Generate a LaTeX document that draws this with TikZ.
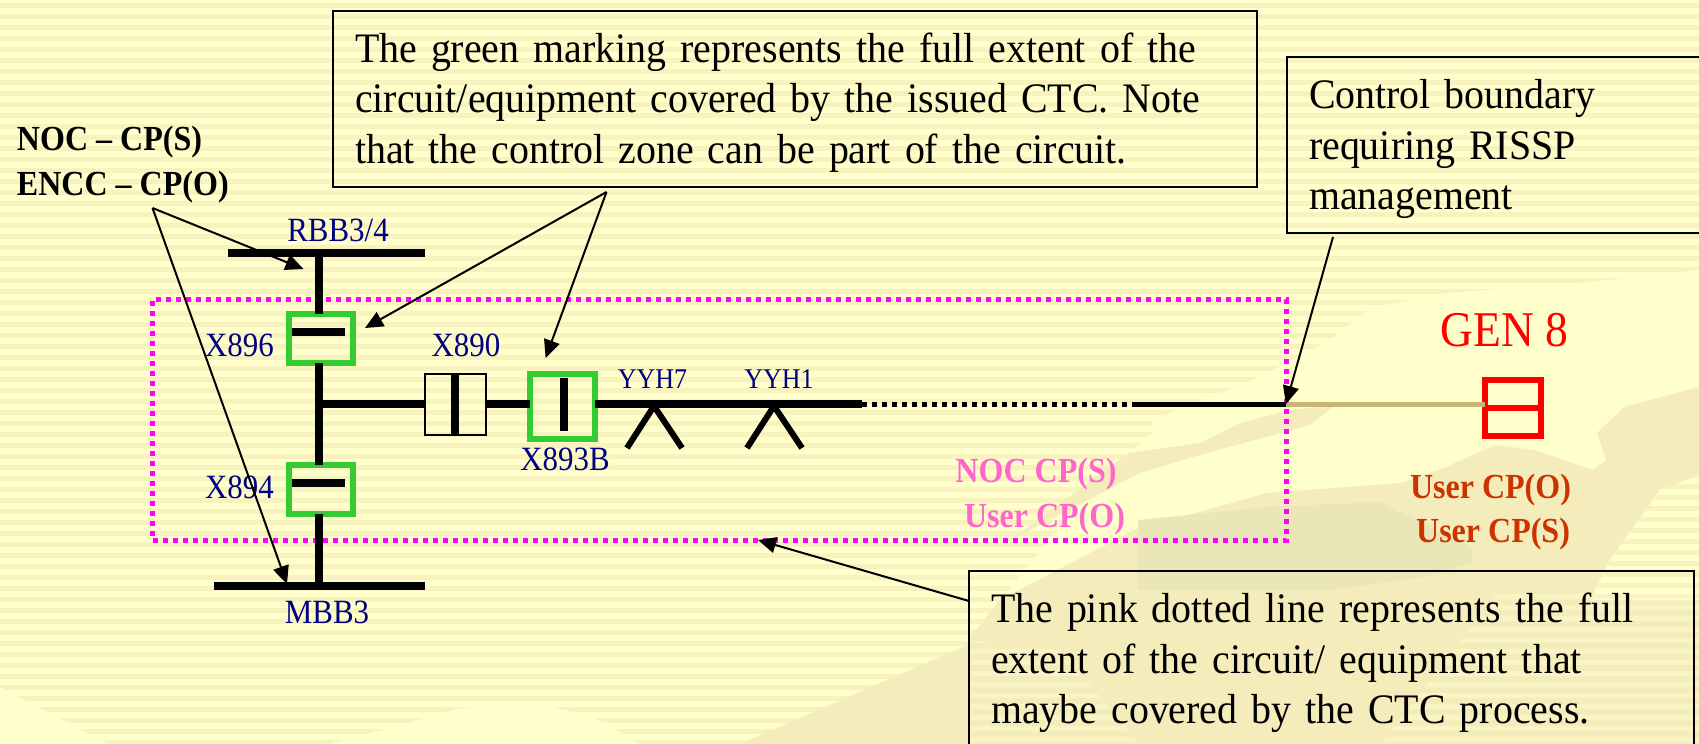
\documentclass[tikz,border=0pt]{standalone}
\usepackage{fontspec}
\setmainfont[FakeStretch=0.91]{Liberation Serif}
\newfontfamily\notefont[FakeStretch=0.95,WordSpace=0.85]{Liberation Serif}
\usetikzlibrary{arrows.meta,positioning}
\definecolor{paper}{HTML}{FFFFCC}
\definecolor{stripe}{HTML}{F8F2BE}
\definecolor{swoosh}{HTML}{F4EDBB}
\definecolor{swooshdark}{HTML}{EAE6B8}
\definecolor{swooshstripe}{HTML}{F9F4C3}
\definecolor{zonepink}{HTML}{FF00FF}
\definecolor{markgreen}{HTML}{33CC33}
\definecolor{labelpink}{HTML}{FF66CC}
\definecolor{labelorange}{HTML}{CC3300}
\definecolor{cabletan}{HTML}{C9B677}
\tikzstyle{every node}+=[inner sep=0pt,outer sep=0pt]
\tikzstyle{busline}=[line width=4pt]
\tikzstyle{feeder}=[line width=4pt]
\tikzstyle{switchbar}=[line width=3.6pt]
\tikzstyle{forkleg}=[line width=3pt]
\tikzstyle{markbox}=[draw=markgreen,line width=3pt,minimum width=32.25pt,minimum height=24.5pt]
\tikzstyle{plantlabel}=[text=blue!50!black,font=\fontsize{17}{20}\selectfont]
\tikzstyle{smalllabel}=[text=blue!50!black,font=\fontsize{14.3}{17}\selectfont]
\tikzstyle{rolelabel}=[font=\fontsize{17.6}{21}\selectfont\bfseries]
\tikzstyle{notebox}=[draw,line width=1.2pt,anchor=north west,align=left,inner xsep=11pt,inner ysep=5.6pt,font=\notefont\fontsize{21}{25.4}\selectfont]
\tikzstyle{notearrow}=[line width=1pt,-{Triangle[length=9pt,width=8pt]}]
\newcommand{\nb}{\rule[-6pt]{0pt}{26pt}}
\begin{document}
\begin{tikzpicture}[x=0.5pt,y=-0.5pt]
\clip (0,0) rectangle (1699,744);
\fill[paper] (0,0) rectangle (1699,744);

\begin{scope}
\clip (0,0) -- (1699,0) -- (1699,270) -- (1580,283) -- (1446,293) -- (1370,308) -- (1330,340) -- (1259,377) -- (1152,420) -- (1152,433) -- (1129,453) -- (1089,493) -- (1000,600) -- (963,647) -- (740,744) -- (640,744) -- (593,717) -- (542,704) -- (459,708) -- (408,723) -- (328,744) -- (108,744) -- (0,687) -- cycle;
\foreach \y in {0,11,...,737}
  \fill[stripe] (0,\y+3) rectangle (1699,\y+8);
\end{scope}

\fill[swoosh] (1699,387) -- (1624,407) -- (1597,433) -- (1606,460) -- (1593,470) -- (1535,450) -- (1495,445) -- (1446,467) -- (1401,483) -- (1267,493) -- (1134,530) -- (1000,600) -- (963,647) -- (740,744) -- (1699,744) -- cycle;
\fill[swoosh] (1129,453) -- (1200,443) -- (1240,423) -- (1290,410) -- (1335,405) -- (1310,425) -- (1200,455) -- (1140,473) -- (1010,540) -- cycle;
\fill[swooshdark] (1138,520) -- (1267,507) -- (1379,502) -- (1472,547) -- (1472,563) -- (1423,577) -- (1330,590) -- (1138,590) -- cycle;
\begin{scope}
\clip (1699,475) -- (1660,490) -- (1610,560) -- (1590,600) -- (1699,600) -- cycle;
\fill[paper] (1500,470) rectangle (1699,650);
\foreach \y in {473,484,...,600}
  \fill[stripe] (1500,\y) rectangle (1699,\y+5);
\end{scope}
\begin{scope}
\clip (1699,590) -- (1500,590) -- (1380,744) -- (1699,744) -- cycle;
\foreach \y in {594,605,...,737}
  \fill[swooshstripe] (1300,\y) rectangle (1699,\y+5);
\end{scope}
\begin{scope}
\clip (969,640) -- (969,744) -- (1140,744) -- (1060,650) -- cycle;
\foreach \y in {638,649,...,737}
  \fill[swooshstripe] (960,\y) rectangle (1140,\y+5);
\end{scope}

\node[draw=zonepink,line width=2.5pt,dash pattern=on 2.5pt off 2.5pt,minimum width=566.75pt,minimum height=120.5pt] (zone) at (719.25,419.5) {};

\coordinate (rbbl) at (228,253);
\coordinate (rbbm) at (319,253);
\coordinate (rbbr) at (425,253);
\coordinate (mbbl) at (213.5,586);
\coordinate (mbbm) at (319,586);
\coordinate (mbbr) at (425,586);
\coordinate (tee) at (319,404);
\coordinate (lineend) at (862,404);
\coordinate (dotend) at (1134,404);
\coordinate (boundary) at (1286,404);

\node[markbox] (x896) at (321,338) {};
\node[markbox] (x894) at (321,489) {};
\node[markbox,minimum height=32.5pt] (x893b) at (562.5,406) {};
\node[draw,line width=1pt,minimum width=30.5pt,minimum height=30.5pt] (x890) at (455.5,404.5) {};
\node[draw=red,line width=3pt,minimum width=28pt,minimum height=28pt] (gen) at (1513,408) {};

\draw[busline] (rbbl) -- (rbbr);
\draw[busline] (mbbl) -- (mbbr);
\draw[feeder] (rbbm) -- (rbbm |- x896.north);
\draw[feeder] (rbbm |- x896.south) -- (rbbm |- x894.north);
\draw[feeder] (rbbm |- x894.south) -- (mbbm);
\draw[feeder] (tee) -- (tee -| x890.west);
\draw[feeder] (tee -| x890.east) -- (tee -| x893b.west);
\draw[feeder] (tee -| x893b.east) -- (lineend);
\draw[line width=2.5pt,dash pattern=on 2.5pt off 2.5pt] (lineend) -- (dotend);
\draw[line width=2.5pt] (dotend) -- (boundary);
\draw[line width=2.5pt,cabletan] (boundary) -- (boundary -| gen.west);
\draw[line width=3pt,red] (gen.west) -- (gen.east);

\draw[switchbar] (292,332) coordinate (x896a) -- (345,332) coordinate (x896b);
\draw[switchbar] (292,483) coordinate (x894a) -- (345,483) coordinate (x894b);
\draw[switchbar] (564,377.5) coordinate (x893a) -- (564,430.5) coordinate (x893c);
\draw[switchbar] (455,374) coordinate (x890a) -- (455,435) coordinate (x890b);

\coordinate (yyh7) at (654,406);
\coordinate (yyh7l) at (627,448);
\coordinate (yyh7r) at (682,448);
\coordinate (yyh1) at (774,406);
\coordinate (yyh1l) at (747,448);
\coordinate (yyh1r) at (802,448);
\draw[forkleg] (yyh7l) -- (yyh7) -- (yyh7r);
\draw[forkleg] (yyh1l) -- (yyh1) -- (yyh1r);

\node[plantlabel] (rbb) at (338,230) {RBB3/4};
\node[plantlabel] (mbb) at (327,612) {MBB3};
\node[plantlabel] (x896t) at (239.5,345) {X896};
\node[plantlabel] (x894t) at (239.5,487) {X894};
\node[plantlabel] (x890t) at (466,345) {X890};
\node[plantlabel] (x893t) at (565,459) {X893B};
\node[smalllabel] (yyh7t) at (652.5,379) {YYH7};
\node[smalllabel] (yyh1t) at (779,379) {YYH1};

\node[rolelabel,anchor=west] (noc) at (17,142) {NOC -- CP(S)};
\node[rolelabel,anchor=west] (encc) at (17,187) {ENCC -- CP(O)};
\node[rolelabel,text=labelpink] (zones) at (1036,474) {NOC CP(S)};
\node[rolelabel,text=labelpink] (zoneo) at (1044.5,519) {User CP(O)};
\node[rolelabel,text=labelorange] (usero) at (1490.5,490) {User CP(O)};
\node[rolelabel,text=labelorange,anchor=east] (users) at (1570,534) {User CP(S)};
\node[text=red,font=\fontsize{25}{30}\selectfont] (gent) at (1504.5,330) {GEN 8};

\node[notebox,text width=440pt] (greennote) at (333,11) {\nb The green marking represents the full extent of the\\circuit/equipment covered by the issued CTC. Note\\\nb that the control zone can be part of the circuit.};
\node[notebox,text width=194pt] (boundnote) at (1287,57) {\nb Control boundary\\requiring RISSP\\\nb management};
\node[notebox,text width=340.5pt] (pinknote) at (969,571) {\nb The pink dotted line represents the full\\extent of the circuit/ equipment that\\\nb maybe covered by the CTC process.};

\coordinate (rolefrom) at (152.5,208);
\coordinate (roletop) at (303.5,269);
\coordinate (rolebot) at (287,584);
\coordinate (greenfrom) at (606.5,192);
\coordinate (greenx896) at (365,328);
\coordinate (greenx893) at (545.6,358);
\coordinate (boundfrom) at (1333,237);
\coordinate (pinkfrom) at (969,601);
\coordinate (pinktip) at (758,540);
\draw[notearrow] (rolefrom) -- (roletop);
\draw[notearrow] (rolefrom) -- (rolebot);
\draw[notearrow] (greenfrom) -- (greenx896);
\draw[notearrow] (greenfrom) -- (greenx893);
\draw[notearrow] (boundfrom) -- (boundary);
\draw[notearrow] (pinkfrom) -- (pinktip);
\end{tikzpicture}
\end{document}
